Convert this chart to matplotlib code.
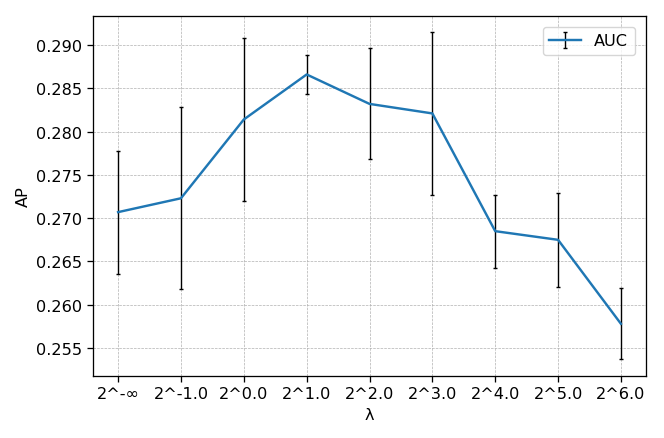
import matplotlib
matplotlib.use("Agg")
import matplotlib.pyplot as plt

# lambda settings and measured AP (mean +/- std)
labels = ['2^-∞', '2^-1.0', '2^0.0', '2^1.0', '2^2.0', '2^3.0', '2^4.0', '2^5.0', '2^6.0']
ap_mean = [0.2707, 0.2723, 0.2814, 0.2866, 0.2832, 0.2821, 0.2685, 0.2675, 0.2578]
ap_std = [0.0071, 0.0105, 0.0094, 0.0022, 0.0064, 0.0094, 0.0042, 0.0054, 0.0041]

s = 1.16  # reference looks rendered a bit larger than dpi 100
plt.rcParams['font.size'] = 10 * s
plt.rcParams['axes.linewidth'] = 0.8 * s
plt.rcParams['xtick.major.width'] = 0.8 * s
plt.rcParams['ytick.major.width'] = 0.8 * s
plt.rcParams['xtick.major.size'] = 3.5 * s
plt.rcParams['ytick.major.size'] = 3.5 * s

fig = plt.figure(figsize=(6.64, 4.39), dpi=100)
ax = fig.add_axes([0.140, 0.142, 0.833, 0.820])

x = list(range(len(labels)))
ax.errorbar(x, ap_mean, yerr=ap_std, color='tab:blue', ecolor='black',
            elinewidth=1, capsize=1.5, capthick=1, linewidth=1.5 * s, label='AUC')

ax.set_xticks(x)
ax.set_xticklabels(labels)
ax.set_xlabel('λ')
ax.set_ylabel('AP')
ax.grid(True, linestyle='--', linewidth=0.5, color='#b0b0b0')
ax.legend(loc='upper right', borderaxespad=0.7)

fig.savefig('out.png', dpi=100)
